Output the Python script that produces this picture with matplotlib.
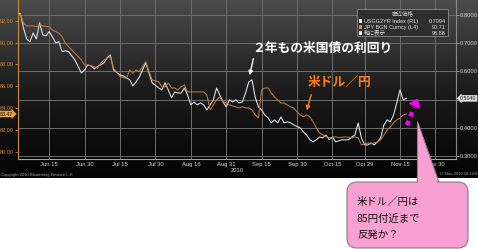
import numpy as np
import matplotlib
matplotlib.use('Agg')
import matplotlib.pyplot as plt
from matplotlib.colors import LinearSegmentedColormap
from matplotlib.patches import FancyBboxPatch, Polygon, Rectangle

# ---- data (x = trading sessions since 2010-06-01) ----
usgg_day = [0, 1, 2, 3, 4, 5, 6, 7, 8, 9, 10, 11, 12, 13, 14, 15, 16, 18, 19, 20,
            21, 22, 23, 24, 25, 27, 28, 29, 30, 32, 33, 35, 36, 37, 38, 40, 41, 42, 44, 45,
            46, 47, 48, 49, 50, 51, 52, 53, 54, 55, 56, 57, 58, 59, 60, 61, 62, 64, 65, 66,
            67, 68, 69, 70, 71, 72, 73, 74, 75, 76, 77, 78, 79, 80, 81, 82, 83, 84, 85, 86,
            88, 89, 90, 91, 92, 93, 94, 95, 96, 97, 98, 99, 101, 103, 104, 105, 106, 107, 108, 109,
            110, 111, 112, 113, 114, 115, 116, 117, 118, 119, 120, 121]
usgg_yield = [0.800, 0.806, 0.754, 0.715, 0.705, 0.736, 0.715, 0.772, 0.729, 0.726,
              0.741, 0.722, 0.701, 0.705, 0.670, 0.673, 0.670, 0.640, 0.617, 0.594,
              0.605, 0.623, 0.619, 0.609, 0.617, 0.630, 0.648, 0.658, 0.605, 0.587,
              0.584, 0.570, 0.548, 0.563, 0.580, 0.630, 0.594, 0.559, 0.541, 0.534,
              0.559, 0.534, 0.506, 0.527, 0.523, 0.523, 0.541, 0.516, 0.481, 0.491,
              0.481, 0.488, 0.481, 0.463, 0.481, 0.499, 0.541, 0.491, 0.474, 0.499,
              0.491, 0.499, 0.488, 0.491, 0.523, 0.562, 0.570, 0.509, 0.474, 0.463,
              0.445, 0.435, 0.417, 0.428, 0.417, 0.438, 0.417, 0.421, 0.417, 0.410,
              0.399, 0.385, 0.374, 0.357, 0.350, 0.357, 0.367, 0.364, 0.374, 0.357,
              0.367, 0.350, 0.357, 0.357, 0.367, 0.374, 0.417, 0.364, 0.339, 0.339,
              0.346, 0.339, 0.350, 0.364, 0.410, 0.428, 0.421, 0.445, 0.488, 0.534,
              0.499, 0.504]

jpy_day = [0, 1, 2, 3, 5, 6, 7, 8, 10, 11, 12, 13, 14, 15, 17, 18, 20, 21, 22, 24,
           25, 26, 27, 28, 29, 30, 32, 34, 35, 36, 37, 38, 40, 41, 42, 44, 45, 46, 47, 48,
           49, 50, 51, 52, 53, 54, 56, 58, 59, 60, 61, 62, 63, 64, 65, 66, 68, 69, 70, 71,
           72, 73, 74, 75, 76, 77, 78, 79, 80, 81, 82, 83, 84, 85, 86, 87, 88, 89, 90, 91,
           92, 93, 94, 95, 96, 97, 99, 100, 102, 104, 105, 106, 107, 109, 110, 112, 113, 114, 115, 116,
           117, 118, 119, 120, 121]
jpy_rate = [92.43, 92.61, 91.76, 91.52, 91.52, 91.45, 91.61, 91.52, 91.45, 91.15,
            91.00, 90.85, 90.54, 89.94, 89.32, 89.02, 88.41, 87.95, 87.95, 87.80,
            87.65, 88.11, 88.41, 88.57, 88.71, 87.65, 86.89, 86.74, 87.50, 87.20,
            87.50, 87.34, 88.26, 87.34, 86.58, 86.43, 85.95, 85.95, 86.31, 85.85,
            85.85, 85.67, 85.95, 86.13, 85.49, 85.49, 85.49, 85.49, 85.21, 83.85,
            84.30, 84.76, 85.03, 84.58, 84.48, 84.30, 84.12, 84.03, 84.12, 84.03,
            84.03, 83.85, 83.39, 83.11, 85.67, 85.85, 85.85, 85.39, 85.03, 84.76,
            84.48, 84.48, 84.30, 84.12, 84.03, 83.67, 83.39, 83.21, 83.39, 83.21,
            82.76, 82.21, 81.75, 81.57, 81.39, 81.30, 81.39, 81.30, 81.39, 81.29,
            81.38, 81.29, 80.65, 80.83, 80.74, 80.92, 81.10, 81.56, 82.02, 82.29,
            82.66, 82.93, 83.11, 83.39, 83.47]

tick_dates = ['2010-06-15', '2010-06-30', '2010-07-15', '2010-07-30', '2010-08-16', '2010-08-31',
              '2010-09-15', '2010-09-30', '2010-10-15', '2010-10-29', '2010-11-15', '2010-11-30']
tick_labels = ['Jun 15', 'Jun 30', 'Jul 15', 'Jul 30', 'Aug 16', 'Aug 31',
               'Sep 15', 'Sep 30', 'Oct 15', 'Oct 29', 'Nov 15', 'Nov 30']
jpy_ticks = [80, 82, 84, 86, 88, 90, 92]
usgg_ticks = [0.3, 0.4, 0.5, 0.6, 0.7, 0.8]
usgg_last_label = '0.5040'

legend_rows = [('USGG2YR Index (R1)', '0.7094', '#f0f0f0'),
               ('JPY BGN Curncy (L4)', '90.71', '#e8901c'),
               ('軸に表示', '98.88', '#f0f0f0')]

W, H = 478, 249
CJK = ['Noto Sans CJK JP', 'DejaVu Sans']
plt.rcParams['font.family'] = ['Liberation Sans', 'DejaVu Sans']

fig = plt.figure(figsize=(W / 100, H / 100), dpi=100)
fig.patch.set_facecolor('white')

# dark terminal background
bg = fig.add_axes([0, 1 - 178 / H, 1, 178 / H], zorder=-5)
cmap = LinearSegmentedColormap.from_list('bbg', ['#4c4c4c', '#1c1c1c', '#030303'])
bg.imshow(np.linspace(0, 1, 256).reshape(-1, 1), cmap=cmap, aspect='auto')
bg.axis('off')

# right axis = 2y yield (white), left axis = USD/JPY (orange)
ax = fig.add_axes([18 / W, 1 - 159 / H, (456 - 18) / W, 159 / H])
ax.patch.set_alpha(0)
axl = ax.twinx()
ax.yaxis.tick_right()
axl.yaxis.tick_left()

ax.plot(usgg_day, usgg_yield, color='#e4e6ee', lw=0.75)
axl.plot(jpy_day, jpy_rate, color='#c47a34', lw=0.75)

tick_pos = np.busday_count('2010-06-01', tick_dates)
ax.set_xlim(0.3, 136.4)
ax.set_xticks(tick_pos)
ax.set_xticklabels(tick_labels)
ax.set_ylim(0.289, 0.853)
ax.set_yticks(usgg_ticks)
# the 0.5 label sits under the last-value tag on the terminal, so leave it blank
ax.set_yticklabels(['' if abs(v - 0.5) < 1e-9 else '%.4f' % v for v in usgg_ticks])
axl.set_ylim(79.36, 93.89)
axl.set_yticks(jpy_ticks)
axl.set_yticklabels(['%.2f' % v for v in jpy_ticks])

ax.grid(True, color='#6e6e6e', lw=0.7)
ax.tick_params(axis='x', colors='#d4d4d4', labelsize=4.2, length=0, pad=2)
ax.tick_params(axis='y', colors='#a0a0a0', labelcolor='#d4d4d4', labelsize=4.2, length=2, width=0.6, pad=1)
axl.tick_params(axis='y', colors='#d08a30', labelsize=4, length=2, width=0.6, pad=1)

for s in ['top', 'left']:
    ax.spines[s].set_visible(False)
ax.spines['bottom'].set_color('#a0a0a0')
ax.spines['right'].set_color('#8a8a8a')
for s in ['top', 'right', 'bottom']:
    axl.spines[s].set_visible(False)
axl.spines['left'].set_color('#c88a3a')

# last-value tags on both axes
axl.annotate('%.2f' % jpy_rate[-1], xy=(0, jpy_rate[-1]), xycoords=('axes fraction', 'data'),
             xytext=(-3.5, 0), textcoords='offset points', ha='right', va='center',
             fontsize=3.8, color='#1a1a1a',
             bbox=dict(boxstyle='rarrow,pad=0.15', fc='#e8a23c', ec='none'))
ax.annotate(usgg_last_label, xy=(1, usgg_yield[-1]), xycoords=('axes fraction', 'data'),
            xytext=(3, 0), textcoords='offset points', ha='left', va='center',
            fontsize=3.8, color='#1a1a1a',
            bbox=dict(boxstyle='larrow,pad=0.15', fc='#dcdcdc', ec='none'))

# overlay in pixel coordinates for the hand-drawn notes
ov = fig.add_axes([0, 0, 1, 1], zorder=10)
ov.set_xlim(0, W)
ov.set_ylim(H, 0)
ov.axis('off')

ov.text(237, 170.5, '2010', fontsize=4.2, color='#d4d4d4', ha='center', va='center')
ov.text(1, 175, 'Copyright 2010 Bloomberg Finance L.P.', fontsize=3, color='#a8a8a8', va='center')
ov.text(477, 174, '17-Nov-2010 16:14:8', fontsize=3, color='#a8a8a8', ha='right', va='center')

# legend box
ov.add_patch(Rectangle((357, 9), 91, 27, fc='#2e2e2e', ec='#8a8a8a', lw=0.6))
ov.text(403, 13.5, '直近価格', family=CJK, fontsize=4, color='#c8c8c8', ha='center', va='center')
for k, (name, val, col) in enumerate(legend_rows):
    y = 21 + k * 6
    ov.add_patch(Rectangle((359, y - 1.6), 3.2, 3.2, fc=col, ec='none'))
    ov.text(364, y, name, family=['Liberation Sans'] + CJK, fontsize=4, color='#e0e0e0', va='center')
    ov.text(446, y, val, fontsize=4, color='#e0e0e0', ha='right', va='center')

# notes
ov.text(252, 48, '２年もの米国債の利回り', family=CJK, fontsize=9.2, fontweight='bold',
        color='white', va='center')
ov.annotate('', xy=(249, 78), xytext=(254, 56),
            arrowprops=dict(arrowstyle='-|>', color='white', lw=1, mutation_scale=6))
ov.text(308, 82, '米ドル／円', family=CJK, fontsize=9.2, fontweight='bold',
        color='#ff7a1a', va='center')
ov.annotate('', xy=(306, 113), xytext=(312, 92),
            arrowprops=dict(arrowstyle='-|>', color='#ff7a1a', lw=1, mutation_scale=6))

# magenta dotted arrow: square dots plus a solid head
ov.plot([407, 414], [125, 107], color='#ff00ff', lw=3.2, ls=(0, (1, 1.1)), dash_capstyle='butt')
ov.annotate('', xy=(419, 96), xytext=(416, 102.5),
            arrowprops=dict(arrowstyle='-|>,head_length=0.55,head_width=0.4', color='#ff00ff',
                            lw=0.5, mutation_scale=10))

# pink callout
pink = '#f8a0d2'
edge = '#8c7a86'
ov.add_patch(Polygon([(417, 121), (417, 186), (440, 186)], closed=True, fc=pink, ec=edge, lw=0.8))
ov.add_patch(FancyBboxPatch((350, 185), 115, 60, boxstyle='round,pad=3,rounding_size=10',
                            fc=pink, ec=edge, lw=0.8))
ov.add_patch(Polygon([(417.6, 123), (417.6, 187), (438.5, 187)], closed=True, fc=pink, ec='none'))
for y, line in zip([202, 218.5, 235], ['米ドル／円は', '85円付近まで', '反発か？']):
    ov.text(357, y, line, family=CJK, fontsize=7.5, color='#111111', va='center')

fig.savefig('out.png', dpi=100)
